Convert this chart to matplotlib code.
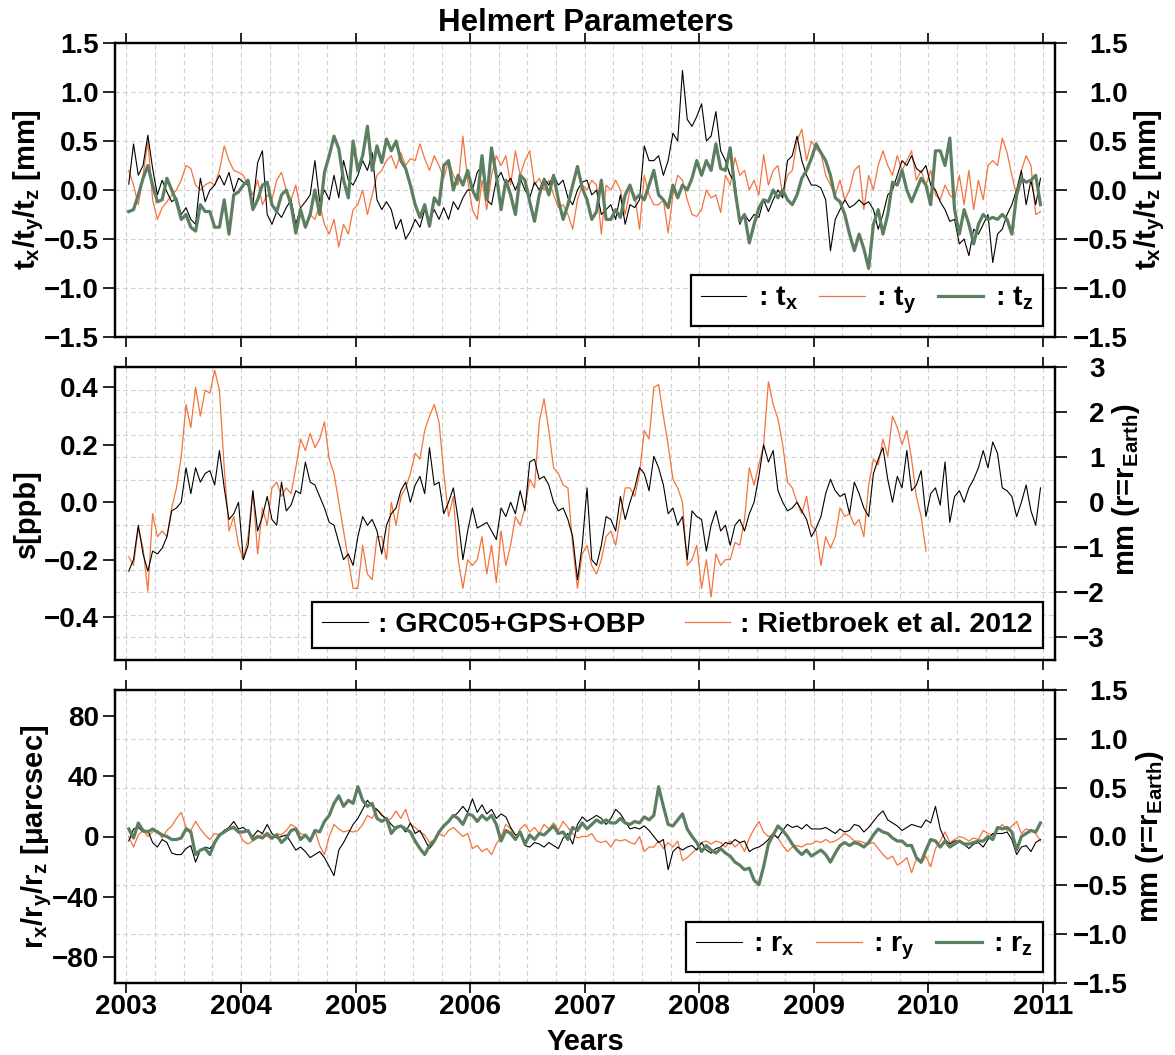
import numpy as np
import matplotlib
matplotlib.use('Agg')
import matplotlib.pyplot as plt
from matplotlib.ticker import MultipleLocator, FixedLocator
from matplotlib.lines import Line2D

plt.rcParams['font.family'] = ['Liberation Sans', 'DejaVu Sans']
plt.rcParams['font.weight'] = 'bold'
plt.rcParams['axes.labelweight'] = 'bold'
plt.rcParams['mathtext.fontset'] = 'custom'
plt.rcParams['mathtext.rm'] = 'Liberation Sans:bold'
plt.rcParams['mathtext.bf'] = 'Liberation Sans:bold'
plt.rcParams['mathtext.it'] = 'Liberation Sans:bold'
plt.rcParams['mathtext.default'] = 'bf'
plt.rcParams['axes.linewidth'] = 1.6

# -------------------- data (half-monthly samples) --------------------
T0 = 2003.02      # first epoch [yr]
STEP = 1.0 / 24   # sampling step [yr]

# translations [mm]
tx = [0.06, 0.47, 0.15, 0.25, 0.56, 0.22, -0.05, 0.10, -0.02, -0.12, -0.08, -0.25, -0.18, -0.30, -0.35, 0.12, -0.12, 0.00, 0.05, 0.15, 0.05, 0.18, -0.02, 0.12,
      0.08, 0.05, -0.15, 0.28, 0.40, -0.25, -0.35, -0.22, -0.28, -0.18, -0.10, -0.35, -0.18, -0.12, -0.05, 0.30, -0.12, 0.00, -0.10, 0.15, -0.08, 0.30, 0.10, 0.05,
      0.15, 0.30, 0.20, 0.38, -0.10, -0.20, -0.12, -0.20, -0.40, -0.30, -0.50, -0.42, -0.30, -0.38, -0.20, -0.30, -0.20, -0.30, -0.18, -0.30, -0.12, -0.20, -0.08, 0.00,
      0.00, 0.18, 0.25, -0.10, -0.15, 0.10, 0.18, 0.05, 0.12, 0.00, 0.12, 0.00, -0.08, 0.08, 0.00, 0.12, 0.05, 0.15, 0.05, 0.10, -0.08, -0.15, 0.00, 0.08,
      0.10, -0.05, 0.00, -0.25, -0.20, -0.15, -0.30, -0.05, -0.35, -0.15, -0.18, -0.10, 0.45, 0.30, 0.30, 0.35, 0.15, 0.30, 0.58, 0.50, 1.22, 0.72, 0.65, 0.75,
      0.88, 0.50, 0.55, 0.80, 0.40, 0.30, 0.15, 0.08, -0.35, -0.25, -0.32, -0.25, -0.28, -0.10, -0.22, -0.10, 0.00, -0.08, 0.30, 0.35, 0.55, 0.30, 0.15, 0.05,
      0.05, 0.02, -0.10, -0.62, -0.30, -0.20, -0.10, -0.18, -0.15, -0.10, -0.15, -0.12, -0.20, -0.40, -0.25, -0.05, 0.00, 0.15, 0.30, 0.25, 0.35, 0.22, 0.18, 0.25,
      0.05, 0.00, -0.12, -0.20, -0.32, -0.30, -0.55, -0.50, -0.67, -0.40, -0.45, -0.35, -0.25, -0.74, -0.45, -0.40, -0.25, -0.15, 0.00, 0.20, -0.15, 0.10, -0.15, 0.12]
ty = [0.20, 0.05, -0.15, 0.15, 0.50, -0.10, -0.30, -0.18, -0.12, -0.05, 0.00, 0.10, 0.25, 0.22, 0.05, 0.00, 0.05, 0.08, 0.05, 0.20, 0.45, 0.30, 0.20, 0.18,
      0.15, 0.05, -0.05, 0.10, -0.15, -0.05, -0.10, 0.10, 0.18, 0.00, -0.10, 0.05, -0.20, -0.35, -0.25, -0.30, -0.15, -0.35, -0.45, -0.30, -0.58, -0.35, -0.45, -0.20,
      -0.15, 0.00, -0.25, -0.05, 0.15, 0.20, 0.30, 0.35, 0.22, 0.38, 0.25, 0.32, 0.30, 0.47, 0.32, 0.20, 0.35, 0.25, 0.12, 0.30, 0.15, 0.05, 0.55, 0.10,
      -0.20, -0.30, 0.10, -0.20, 0.15, 0.35, 0.25, 0.35, 0.05, 0.40, 0.15, 0.30, 0.40, 0.05, 0.12, 0.00, 0.10, -0.05, -0.18, -0.15, -0.25, -0.40, -0.10, 0.05,
      0.00, 0.10, 0.05, -0.45, 0.05, 0.00, 0.10, 0.00, -0.25, 0.00, -0.05, -0.40, 0.15, -0.05, -0.15, -0.15, -0.10, -0.44, -0.05, 0.15, 0.10, -0.10, -0.25, -0.27,
      -0.20, 0.00, -0.08, -0.05, -0.23, 0.15, 0.05, 0.33, 0.15, 0.20, 0.00, 0.10, -0.05, 0.36, 0.05, 0.20, 0.25, -0.05, 0.15, 0.20, 0.50, 0.62, 0.30, 0.50,
      0.42, 0.38, 0.15, 0.05, -0.05, 0.10, -0.10, 0.00, 0.20, 0.25, -0.20, 0.15, 0.00, 0.25, 0.40, 0.25, 0.15, 0.35, 0.20, 0.30, 0.40, 0.10, 0.20, 0.05,
      0.20, -0.05, -0.10, 0.05, -0.05, -0.10, 0.15, -0.15, 0.20, -0.20, 0.10, -0.10, 0.25, 0.30, 0.25, 0.53, 0.38, 0.15, -0.05, 0.20, 0.35, 0.25, -0.25, -0.22]
tz = [-0.22, -0.20, -0.05, 0.12, 0.25, 0.05, -0.12, -0.10, 0.12, 0.00, -0.12, -0.30, -0.25, -0.38, -0.42, -0.15, -0.22, -0.22, -0.38, -0.38, -0.10, -0.45, -0.05, -0.02,
      0.05, 0.10, -0.20, -0.10, 0.05, 0.08, -0.15, -0.22, -0.05, 0.00, -0.15, -0.44, -0.20, -0.38, -0.25, 0.00, -0.25, 0.18, 0.35, 0.55, 0.42, 0.10, -0.08, 0.50,
      0.20, 0.35, 0.65, 0.20, 0.45, 0.28, 0.52, 0.40, 0.50, 0.30, 0.22, 0.05, -0.15, -0.28, -0.15, -0.37, -0.08, -0.15, 0.25, 0.30, 0.00, 0.15, 0.05, 0.20,
      0.00, -0.10, 0.35, -0.10, 0.43, 0.15, -0.20, 0.10, -0.05, -0.25, 0.15, 0.10, -0.12, -0.32, -0.05, 0.10, -0.05, 0.15, -0.10, -0.30, -0.15, 0.05, 0.24, 0.02,
      -0.10, -0.30, -0.22, 0.10, -0.30, -0.30, -0.20, -0.28, -0.05, 0.05, -0.10, -0.05, -0.10, 0.05, 0.20, -0.05, -0.10, -0.18, 0.05, -0.08, 0.05, 0.00, 0.12, 0.30,
      0.15, 0.30, 0.20, 0.47, 0.22, 0.20, 0.43, 0.00, -0.32, -0.25, -0.54, -0.35, -0.18, -0.10, -0.12, 0.00, -0.08, 0.00, -0.10, -0.15, -0.05, 0.12, 0.20, 0.32,
      0.47, 0.38, 0.30, 0.15, -0.08, -0.12, -0.25, -0.45, -0.62, -0.45, -0.60, -0.80, -0.35, -0.20, -0.45, -0.25, 0.08, 0.05, 0.20, 0.00, -0.12, 0.00, 0.12, 0.05,
      -0.15, 0.40, 0.40, 0.25, 0.53, -0.20, -0.45, -0.20, -0.35, -0.55, -0.35, -0.25, -0.30, -0.28, -0.30, -0.25, -0.30, -0.45, -0.05, 0.12, 0.08, 0.10, 0.15, -0.15]

# scale [ppb]
s_grc = [-0.24, -0.20, -0.08, -0.18, -0.24, -0.17, -0.18, -0.16, -0.12, -0.03, -0.02, 0.00, 0.12, 0.03, 0.12, 0.07, 0.10, 0.11, 0.06, 0.18, 0.05, -0.06, -0.04, 0.00,
         -0.20, -0.15, 0.04, -0.10, -0.05, 0.02, -0.06, -0.08, 0.07, -0.03, -0.01, 0.04, 0.03, 0.14, 0.07, 0.06, 0.02, -0.02, -0.07, -0.08, -0.14, -0.20, -0.18, -0.22,
         -0.12, -0.05, -0.08, -0.06, -0.10, -0.18, -0.08, -0.04, -0.02, 0.04, 0.07, 0.00, 0.06, 0.09, 0.03, 0.19, 0.06, 0.07, -0.04, 0.00, 0.05, -0.06, -0.20, -0.10,
         -0.02, -0.09, -0.08, -0.07, -0.10, -0.13, -0.02, -0.05, 0.00, -0.04, 0.04, -0.03, 0.14, 0.15, 0.08, 0.09, 0.06, 0.00, -0.03, -0.02, -0.06, -0.12, -0.27, -0.15,
         0.05, -0.20, -0.22, -0.15, -0.05, -0.06, -0.10, 0.02, -0.06, 0.00, 0.05, 0.12, 0.10, 0.04, 0.16, 0.12, 0.06, -0.04, -0.02, -0.08, -0.05, -0.20, -0.03, -0.05,
         -0.06, -0.17, -0.08, -0.03, -0.10, -0.08, -0.15, -0.08, -0.06, -0.10, -0.04, 0.00, 0.09, 0.20, 0.14, 0.18, 0.04, 0.00, -0.03, -0.02, 0.00, -0.03, -0.06, -0.12,
         -0.09, -0.05, 0.03, 0.08, 0.04, 0.02, 0.03, -0.04, 0.07, 0.03, -0.02, -0.05, 0.10, 0.15, 0.19, 0.08, 0.00, 0.09, 0.05, 0.18, 0.04, 0.06, 0.11, -0.05,
         0.03, 0.05, -0.01, 0.14, -0.07, 0.02, 0.04, 0.00, 0.05, 0.08, 0.12, 0.18, 0.12, 0.21, 0.17, 0.05, 0.04, 0.02, -0.05, 0.00, 0.06, -0.03, -0.08, 0.05]
s_riet = [-0.19, -0.22, -0.09, -0.16, -0.31, -0.04, -0.12, -0.10, -0.12, -0.02, 0.05, 0.16, 0.34, 0.26, 0.40, 0.30, 0.39, 0.38, 0.46, 0.39, 0.12, -0.10, -0.05, -0.15,
          -0.20, -0.12, 0.04, -0.18, -0.02, -0.08, 0.05, 0.07, 0.02, 0.05, 0.03, 0.12, 0.22, 0.18, 0.24, 0.19, 0.22, 0.28, 0.15, 0.10, 0.00, -0.10, -0.20, -0.30,
          -0.30, -0.15, -0.25, -0.27, -0.12, -0.12, -0.20, 0.00, -0.08, 0.02, 0.05, 0.10, 0.17, 0.15, 0.25, 0.30, 0.34, 0.28, 0.10, -0.05, 0.02, -0.20, -0.30, -0.20,
          -0.22, -0.20, -0.12, -0.25, -0.15, -0.28, -0.10, -0.22, -0.15, -0.05, -0.08, -0.02, 0.08, 0.05, 0.28, 0.36, 0.25, 0.12, 0.10, 0.06, 0.05, -0.15, -0.30, -0.18,
          -0.15, -0.22, -0.25, -0.20, -0.12, -0.10, -0.15, -0.05, 0.05, 0.05, 0.02, 0.10, 0.25, 0.22, 0.40, 0.41, 0.30, 0.20, 0.08, 0.05, 0.00, -0.22, -0.20, -0.15,
          -0.30, -0.20, -0.33, -0.18, -0.22, -0.20, -0.20, -0.14, -0.15, -0.06, 0.12, 0.06, 0.13, 0.20, 0.42, 0.34, 0.29, 0.20, 0.07, 0.05, 0.00, -0.04, 0.02, -0.08,
          -0.10, -0.22, -0.12, -0.16, -0.12, -0.02, -0.05, -0.04, -0.08, -0.06, -0.12, 0.06, 0.15, 0.13, 0.22, 0.16, 0.30, 0.26, 0.20, 0.25, 0.15, 0.02, -0.05, -0.17]

# rotations [micro arcsec]
rx = [-3, 5, 6, 3, 4, -4, -7, -2, -4, -11, -12, -12, -8, -6, -17, -9, -7, -8, -4, 0, 4, 6, 10, 5,
      6, 3, 0, 4, 2, 8, 2, -1, 0, 1, -4, -9, -7, -10, -14, -12, -10, -14, -20, -26, -9, -4, 2, 8,
      12, 18, 24, 20, 18, 14, 12, 8, 5, 7, 3, 9, 2, 4, -2, -8, -4, 3, 7, 10, 13, 16, 20, 16,
      25, 16, 21, 15, 18, 12, 15, 13, 6, 1, 2, -6, -7, -4, -5, -7, -4, -6, -8, -1, 2, -5, 8, 13,
      10, 12, 14, 12, 8, 12, 18, 15, 10, 5, 6, 5, 7, 4, 0, -4, -2, -22, -10, -7, -9, -7, -6, -9,
      -4, -9, -11, -8, -7, -4, -5, -2, -4, -3, -10, -8, -7, -5, -2, 2, -1, 4, 8, 6, 7, 5, 8, 5,
      5, 5, 6, 4, 2, 5, 3, 4, 8, 7, 3, 6, 10, 14, 17, 11, 9, 7, 4, 6, 8, 7, 6, 11,
      9, 20, 5, -2, -5, -3, -3, -5, -8, -5, -4, -7, -2, 2, 2, 2, 3, -2, -12, -7, -6, -10, -4, -2]
ry = [0, -7, 1, 4, 0, 3, 4, -1, 4, 7, 12, 16, 6, 4, 10, 5, 1, -2, 2, 1, 4, 5, 7, 3,
      -3, -5, -3, -1, 2, 0, -2, 2, 1, 4, 8, 6, 2, 1, -2, 4, -6, -12, 0, 8, 5, 3, 4, 3,
      4, 8, 14, 12, 18, 15, 10, 12, 17, 12, 18, 8, 6, 3, 1, -4, -2, 2, 0, 4, 6, 3, 0, 2,
      -8, -6, -10, -8, -12, -5, 0, 8, 5, -2, 5, 8, 3, 6, 2, 8, 5, 9, 4, 10, 6, 2, -1, 0,
      0, 2, -3, -4, -3, -7, -2, -3, -2, -4, -5, 0, -10, -7, -7, -3, -8, -4, -7, -3, -16, -14, -11, -8,
      -4, -3, -5, -3, -4, -7, -3, -7, -4, -10, -1, 5, 10, 3, 0, 1, -1, -6, -10, -7, -6, -7, -5, -5,
      -3, -4, -2, -4, -3, -1, 2, 0, -3, -3, -4, -5, -4, -8, -12, -15, -13, -19, -17, -14, -24, -15, -18, -13,
      -20, -8, -3, 3, -4, -2, 0, -1, -3, -1, -2, 4, 2, 1, 4, 8, 4, 7, 10, 2, 5, 4, 2, -3]
rz = [5, -1, 9, 4, 3, 5, 3, 1, 0, -2, -2, -1, 5, 3, -12, -9, -8, -12, -4, 1, 3, 5, 6, 3,
      3, 4, -2, 0, -1, 2, -1, 1, -4, -1, 4, 5, -2, 1, -3, 4, 3, 10, 14, 22, 27, 20, 24, 22,
      33, 24, 20, 22, 12, 10, 12, 2, 6, 7, 5, 3, -3, -8, -12, -6, -3, 3, 7, 10, 14, 12, 8, 15,
      14, 10, 14, 11, 14, 8, -3, 4, 2, -2, 3, -5, 1, -2, 2, 1, 4, 7, 2, 3, -2, 6, 4, 9,
      5, 8, 11, 9, 11, 9, 9, 12, 9, 8, 10, 9, 13, 11, 14, 33, 20, 8, 7, 11, 15, 5, 0, -4,
      -10, -6, -9, -11, -8, -11, -13, -17, -19, -22, -21, -29, -32, -20, -5, 1, 7, 4, 0, -5, -9, -12, -9, -13,
      -11, -9, -12, -17, -11, -6, -4, -6, -4, -5, -7, -4, 1, 5, 3, 2, -1, -3, -3, -6, -6, -14, -17, -9,
      -2, -3, -7, -3, -7, -5, -3, -5, -5, -4, -3, -3, 0, -2, 6, 5, 6, 3, -9, 0, 2, 4, 3, 9]

years = [2003, 2004, 2005, 2006, 2007, 2008, 2009, 2010, 2011]

MM_PER_PPB = 6.371        # right axis of the scale panel
UAS_PER_MM = 97.2 / 1.5   # right axis of the rotation panel

BLACK, ORANGE, GREEN = 'black', '#f4733c', '#5d7f61'
LW_B, LW_O, LW_G = 0.8, 0.9, 2.3
FS = 20      # tick labels
FS_LAB = 21  # axis labels
FS_LEG = 20.5


def epochs(vals):
    return T0 + STEP * np.arange(len(vals))


# -------------------- figure --------------------
fig = plt.figure(figsize=(11.75, 10.55), dpi=100)
W_PX, H_PX = 1175, 1055


def panel(top, bot):
    return fig.add_axes([115 / W_PX, 1 - bot / H_PX, 940 / W_PX, (bot - top) / H_PX])


ax1 = panel(43, 337)
ax2 = panel(367, 660)
ax3 = panel(690, 983)

grid_kw = dict(ls=(0, (4, 3)), color='#cfcfcf', lw=0.8)

for ax in (ax1, ax2, ax3):
    ax.set_xlim(2002.9, 2011.105)
    ax.set_xticks(years)
    ax.xaxis.set_minor_locator(MultipleLocator(0.25))
    ax.tick_params(axis='x', which='major', direction='out', top=True, bottom=True,
                   length=7, width=1.2, labelsize=FS, pad=1, labelbottom=(ax is ax3))
    ax.tick_params(axis='x', which='minor', length=0)
    ax.tick_params(axis='y', which='major', direction='out', left=True, right=False,
                   length=8.6, width=1.2, labelsize=FS, pad=3)
    ax.tick_params(axis='y', which='minor', length=0)
    ax.xaxis.grid(True, which='both', **grid_kw)

# ---- translations ----
ax1.plot(epochs(ty), ty, color=ORANGE, lw=LW_O)
ax1.plot(epochs(tx), tx, color=BLACK, lw=LW_B)
ax1.plot(epochs(tz), tz, color=GREEN, lw=LW_G)
ax1.set_ylim(-1.5, 1.5)
ax1.set_yticks([-1.5, -1.0, -0.5, 0.0, 0.5, 1.0, 1.5])
ax1.yaxis.grid(True, which='major', **grid_kw)
ax1.set_ylabel('t$_x$/t$_y$/t$_z$ [mm]', fontsize=FS_LAB, va='center')
ax1.yaxis.set_label_coords((29 - 115) / 940, 0.5)

ax1r = ax1.twinx()
ax1r.set_ylim(-1.5, 1.5)
ax1r.set_yticks([-1.5, -1.0, -0.5, 0.0, 0.5, 1.0, 1.5])
ax1r.set_ylabel('t$_x$/t$_y$/t$_z$ [mm]', fontsize=FS_LAB, va='center')
ax1r.yaxis.set_label_coords((1150 - 115) / 940, 0.5)

h1 = [Line2D([], [], color=BLACK, lw=LW_B), Line2D([], [], color=ORANGE, lw=LW_O),
      Line2D([], [], color=GREEN, lw=LW_G)]
leg1 = ax1.legend(h1, [': t$_x$', ': t$_y$', ': t$_z$'], loc='lower right',
                  bbox_to_anchor=(0.987, 0.037), ncol=3, fontsize=FS_LEG, fancybox=False,
                  edgecolor='black', framealpha=1, handlelength=1.6, handletextpad=0.4,
                  columnspacing=0.75, borderpad=0.35, borderaxespad=0)
leg1.get_frame().set_linewidth(1.6)

# ---- scale ----
ax2.plot(epochs(s_riet), s_riet, color=ORANGE, lw=LW_O)
ax2.plot(epochs(s_grc), s_grc, color=BLACK, lw=LW_B)
ax2.set_ylim(-3.5 / MM_PER_PPB, 3.0 / MM_PER_PPB)
ax2.set_yticks([-0.4, -0.2, 0.0, 0.2, 0.4])
ax2.set_yticklabels(['\u22120.4', '\u22120.2', '0.0', '0.2', '0.4'])
ax2.yaxis.set_minor_locator(FixedLocator(np.arange(-3.5, 3.01, 0.5) / MM_PER_PPB))
ax2.yaxis.grid(True, which='minor', **grid_kw)
ax2.set_ylabel('s[ppb]', fontsize=FS_LAB, va='center')
ax2.yaxis.set_label_coords((27 - 115) / 940, 0.5)

ax2r = ax2.twinx()
ax2r.set_ylim(-3.5, 3.0)
ax2r.set_yticks([-3, -2, -1, 0, 1, 2, 3])
ax2r.set_ylabel('mm (r=r$_{Earth}$)', fontsize=FS_LAB, va='center')
ax2r.yaxis.set_label_coords((1126 - 115) / 940, 0.58)

h2 = [Line2D([], [], color=BLACK, lw=LW_B), Line2D([], [], color=ORANGE, lw=LW_O)]
leg2 = ax2.legend(h2, [': GRC05+GPS+OBP', ': Rietbroek et al. 2012'], loc='lower right',
                  bbox_to_anchor=(0.987, 0.042), ncol=2, fontsize=FS_LEG, fancybox=False,
                  edgecolor='black', framealpha=1, handlelength=1.6, handletextpad=0.35,
                  columnspacing=1.4, borderpad=0.35, borderaxespad=0)
leg2.get_frame().set_linewidth(1.6)

# ---- rotations ----
ax3.plot(epochs(ry), ry, color=ORANGE, lw=LW_O)
ax3.plot(epochs(rx), rx, color=BLACK, lw=LW_B)
ax3.plot(epochs(rz), rz, color=GREEN, lw=LW_G)
ax3.set_ylim(-1.5 * UAS_PER_MM, 1.5 * UAS_PER_MM)
ax3.set_yticks([-80, -40, 0, 40, 80])
ax3.yaxis.set_minor_locator(FixedLocator(np.arange(-1.5, 1.51, 0.5) * UAS_PER_MM))
ax3.yaxis.grid(True, which='minor', **grid_kw)
ax3.set_ylabel('r$_x$/r$_y$/r$_z$ [\u03bcarcsec]', fontsize=FS_LAB, va='center')
ax3.yaxis.set_label_coords((37 - 115) / 940, 0.5)

ax3r = ax3.twinx()
ax3r.set_ylim(-1.5, 1.5)
ax3r.set_yticks([-1.5, -1.0, -0.5, 0.0, 0.5, 1.0, 1.5])
ax3r.set_ylabel('mm (r=r$_{Earth}$)', fontsize=FS_LAB, va='center')
ax3r.yaxis.set_label_coords((1150 - 115) / 940, 0.5)

h3 = [Line2D([], [], color=BLACK, lw=LW_B), Line2D([], [], color=ORANGE, lw=LW_O),
      Line2D([], [], color=GREEN, lw=LW_G)]
leg3 = ax3.legend(h3, [': r$_x$', ': r$_y$', ': r$_z$'], loc='lower right',
                  bbox_to_anchor=(0.987, 0.037), ncol=3, fontsize=FS_LEG, fancybox=False,
                  edgecolor='black', framealpha=1, handlelength=1.6, handletextpad=0.4,
                  columnspacing=0.75, borderpad=0.35, borderaxespad=0)
leg3.get_frame().set_linewidth(1.6)

# right axes: right-aligned labels
for axr, pad in ((ax1r, 44), (ax2r, 27), (ax3r, 44)):
    axr.tick_params(axis='y', which='major', direction='out', length=8.6, width=1.2,
                    labelsize=FS, pad=pad)
    for lbl in axr.get_yticklabels():
        lbl.set_horizontalalignment('right')

fig.text(0.4985, 1 - 31 / H_PX, 'Helmert Parameters', ha='center', va='baseline',
         fontsize=22.5, fontweight='bold')
fig.text(0.4985, 1 - 1050 / H_PX, 'Years', ha='center', va='baseline',
         fontsize=FS_LAB, fontweight='bold')

fig.savefig('out.png', dpi=100)
